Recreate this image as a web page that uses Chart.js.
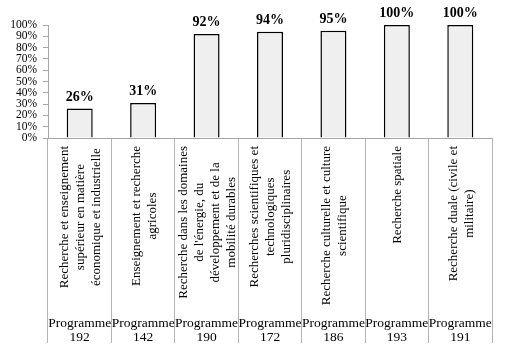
<!DOCTYPE html>
<html lang="fr">
<head>
<meta charset="UTF-8" />
<title>Programmes</title>
<script src="https://cdn.jsdelivr.net/npm/chart.js@4.4.1/dist/chart.umd.min.js"></script>
<style>
  html, body { margin: 0; padding: 0; background: #fff; }
</style>
</head>
<body>
<canvas id="myChart" width="508" height="347"></canvas>
<script>
const values = [26, 31, 92, 94, 95, 100, 100];
const categories = [
  ["Recherche et enseignement", "supérieur en matière", "économique et industrielle"],
  ["Enseignement et recherche", "agricoles"],
  ["Recherche dans les domaines", "de l'énergie, du", "développement et de la", "mobilité durables"],
  ["Recherches scientifiques et", "technologiques", "pluridisciplinaires"],
  ["Recherche culturelle et culture", "scientifique"],
  ["Recherche spatiale"],
  ["Recherche duale (civile et", "militaire)"]
];
const programmes = ["192", "142", "190", "172", "186", "193", "191"];

const SERIF = '"Liberation Serif", "DejaVu Serif", serif';

// value labels above the bars
const valueLabels = {
  id: "valueLabels",
  afterDatasetsDraw(chart) {
    const ctx = chart.ctx;
    const bars = chart.getDatasetMeta(0).data;
    ctx.save();
    ctx.fillStyle = "#000";
    ctx.font = "bold 14px " + SERIF;
    ctx.textAlign = "center";
    ctx.textBaseline = "alphabetic";
    bars.forEach((bar, i) => {
      ctx.fillText(values[i] + "%", bar.x, bar.y - 8);
    });
    ctx.restore();
  }
};

// rotated category names and programme numbers under the axis
const categoryLabels = {
  id: "categoryLabels",
  afterDraw(chart) {
    const ctx = chart.ctx;
    const x = chart.scales.x;
    ctx.save();
    ctx.fillStyle = "#000";
    ctx.font = "13px " + SERIF;
    categories.forEach((lines, i) => {
      const cx = x.getPixelForValue(i) + 1;
      const maxW = Math.max(...lines.map(l => ctx.measureText(l).width));
      ctx.save();
      ctx.translate(cx, x.top + 8 + maxW / 2);
      ctx.rotate(-Math.PI / 2);
      ctx.textAlign = "center";
      ctx.textBaseline = "middle";
      lines.forEach((l, j) => {
        ctx.fillText(l, 0, (j - (lines.length - 1) / 2) * 16);
      });
      ctx.restore();
    });

    ctx.font = "13.5px " + SERIF;
    ctx.textAlign = "center";
    ctx.textBaseline = "middle";
    programmes.forEach((p, i) => {
      const cx = x.getPixelForValue(i);
      ctx.fillText("Programme", cx, x.top + 185);
      ctx.fillText(p, cx, x.top + 199);
    });
    ctx.restore();
  }
};

new Chart(document.getElementById("myChart"), {
  type: "bar",
  data: {
    labels: categories,
    datasets: [{
      data: values,
      backgroundColor: "#efefef",
      borderColor: "#000",
      borderWidth: 1.5,
      categoryPercentage: 1,
      barPercentage: 0.41
    }]
  },
  options: {
    responsive: false,
    animation: false,
    devicePixelRatio: 1,
    layout: { padding: { top: 25, right: 16, bottom: 4, left: 0 } },
    plugins: {
      legend: { display: false },
      tooltip: { enabled: false }
    },
    scales: {
      x: {
        afterFit(scale) { scale.height = 205; },
        grid: {
          offset: true,
          drawOnChartArea: false,
          drawTicks: true,
          tickLength: 205,
          color: "#b4b4b4"
        },
        border: { color: "#a6a6a6" },
        ticks: { display: false }
      },
      y: {
        min: 0,
        max: 100,
        afterFit(scale) { scale.width = 48; },
        ticks: {
          stepSize: 10,
          autoSkip: false,
          padding: 6,
          color: "#000",
          font: { family: SERIF, size: 11.5, lineHeight: 1 },
          callback: v => v + "%"
        },
        grid: {
          drawOnChartArea: false,
          tickLength: 5,
          color: "#a6a6a6"
        },
        border: { color: "#a6a6a6" }
      }
    }
  },
  plugins: [valueLabels, categoryLabels]
});
</script>
</body>
</html>
